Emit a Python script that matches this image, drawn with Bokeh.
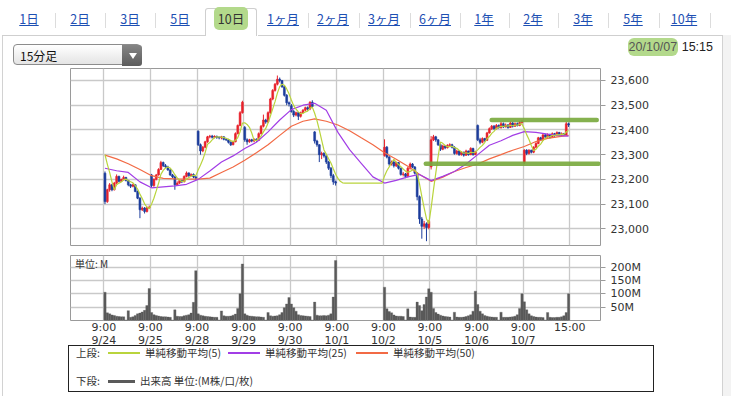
import numpy as np
import pandas as pd
from bokeh.plotting import figure
from bokeh.layouts import column
from bokeh.models import Range1d, FixedTicker, NumeralTickFormatter, Div
from bokeh.core.properties import value
from bokeh.embed import file_html
from bokeh.resources import INLINE

# ---------------- data ----------------
day_labels = ["9/24", "9/25", "9/28", "9/29", "9/30", "10/1", "10/2", "10/5", "10/6", "10/7"]
bars_per_day = 20
prev_closes = [23350, 23345, 23350, 23346]          # last bars of 9/23 (MA5 seed)
am_open = [23225, 23218, 23395, 23410, 23498, 23185, 23297, 23250, 23418, 23268]
pm_open = [23195, 23210, 23368, 23432, 23392, 23185, 23212, 23330, 23410, 23372]

closes = [
    [23110, 23158, 23178, 23158, 23185, 23212, 23192, 23199, 23208, 23195, 23178, 23172, 23178, 23151, 23124, 23077, 23084, 23070, 23086, 23088],
    [23175, 23200, 23218, 23240, 23268, 23255, 23250, 23238, 23218, 23210, 23178, 23185, 23195, 23190, 23212, 23226, 23215, 23220, 23210, 23205],
    [23340, 23315, 23330, 23352, 23372, 23375, 23370, 23374, 23370, 23368, 23372, 23362, 23360, 23350, 23340, 23352, 23385, 23418, 23470, 23512],
    [23360, 23352, 23360, 23355, 23362, 23358, 23385, 23415, 23440, 23432, 23470, 23525, 23560, 23585, 23605, 23600, 23575, 23540, 23510, 23505],
    [23475, 23460, 23470, 23455, 23470, 23480, 23490, 23485, 23512, 23495, 23355, 23340, 23300, 23305, 23295, 23270, 23245, 23215, 23190, 23185],
    [23185, 23185, 23185, 23185, 23185, 23185, 23185, 23185, 23185, 23185, 23185, 23185, 23185, 23185, 23185, 23185, 23185, 23185, 23185, 23185],
    [23330, 23290, 23262, 23270, 23255, 23268, 23245, 23220, 23222, 23212, 23245, 23262, 23250, 23225, 23130, 23040, 23010, 23020, 23005, 23030],
    [23360, 23372, 23360, 23340, 23322, 23335, 23328, 23338, 23340, 23330, 23305, 23315, 23300, 23310, 23298, 23315, 23300, 23325, 23300, 23312],
    [23360, 23350, 23365, 23358, 23388, 23405, 23415, 23405, 23418, 23410, 23425, 23412, 23420, 23410, 23428, 23415, 23425, 23418, 23430, 23434],
    [23318, 23305, 23318, 23310, 23330, 23345, 23368, 23360, 23380, 23372, 23382, 23370, 23385, 23378, 23390, 23378, 23385, 23380, 23425, 23420],
]
highs = [
    [23232, 23162, 23185, 23182, 23190, 23220, 23215, 23203, 23215, 23210, 23198, 23182, 23183, 23180, 23155, 23128, 23090, 23088, 23090, 23094],
    [23222, 23204, 23222, 23245, 23275, 23272, 23262, 23255, 23242, 23222, 23215, 23192, 23200, 23198, 23216, 23232, 23228, 23224, 23224, 23214],
    [23398, 23345, 23335, 23356, 23376, 23380, 23380, 23378, 23377, 23374, 23376, 23374, 23366, 23364, 23354, 23356, 23390, 23422, 23476, 23518],
    [23416, 23366, 23364, 23364, 23366, 23366, 23390, 23420, 23462, 23445, 23475, 23530, 23565, 23590, 23620, 23612, 23602, 23578, 23545, 23515],
    [23505, 23480, 23474, 23472, 23474, 23484, 23494, 23495, 23516, 23520, 23395, 23360, 23342, 23312, 23310, 23298, 23275, 23250, 23222, 23195],
    [23185, 23185, 23185, 23185, 23185, 23185, 23185, 23185, 23185, 23185, 23185, 23185, 23185, 23185, 23185, 23185, 23185, 23185, 23185, 23185],
    [23362, 23335, 23295, 23276, 23274, 23272, 23270, 23248, 23230, 23226, 23250, 23268, 23266, 23254, 23228, 23135, 23048, 23032, 23026, 23035],
    [23375, 23380, 23376, 23362, 23345, 23340, 23338, 23342, 23346, 23344, 23334, 23320, 23318, 23314, 23312, 23320, 23316, 23330, 23328, 23316],
    [23422, 23368, 23370, 23368, 23392, 23410, 23420, 23420, 23424, 23422, 23432, 23430, 23426, 23424, 23434, 23432, 23430, 23430, 23436, 23440],
    [23322, 23322, 23322, 23320, 23334, 23350, 23372, 23372, 23384, 23384, 23386, 23384, 23390, 23388, 23394, 23392, 23390, 23388, 23432, 23430],
]
lows = [
    [23100, 23105, 23150, 23152, 23155, 23180, 23188, 23190, 23195, 23192, 23172, 23165, 23168, 23148, 23120, 23043, 23072, 23062, 23066, 23080],
    [23168, 23170, 23196, 23215, 23238, 23250, 23245, 23235, 23214, 23205, 23158, 23175, 23182, 23185, 23188, 23208, 23210, 23212, 23205, 23198],
    [23335, 23300, 23310, 23326, 23348, 23366, 23365, 23366, 23364, 23362, 23362, 23358, 23355, 23345, 23335, 23338, 23350, 23382, 23415, 23466],
    [23352, 23340, 23348, 23350, 23350, 23352, 23355, 23382, 23410, 23425, 23428, 23465, 23520, 23555, 23580, 23592, 23570, 23535, 23500, 23495],
    [23470, 23452, 23455, 23440, 23450, 23466, 23476, 23478, 23480, 23490, 23345, 23332, 23270, 23282, 23288, 23262, 23238, 23205, 23178, 23175],
    [23185, 23185, 23185, 23185, 23185, 23185, 23185, 23185, 23185, 23185, 23185, 23185, 23185, 23185, 23185, 23185, 23185, 23185, 23185, 23185],
    [23292, 23285, 23255, 23256, 23248, 23250, 23240, 23215, 23212, 23205, 23208, 23240, 23245, 23220, 23115, 23020, 22960, 23000, 22950, 22998],
    [23240, 23355, 23352, 23335, 23315, 23318, 23322, 23325, 23332, 23325, 23300, 23300, 23295, 23296, 23292, 23295, 23296, 23298, 23296, 23298],
    [23355, 23342, 23346, 23352, 23355, 23385, 23400, 23400, 23402, 23405, 23405, 23408, 23410, 23405, 23408, 23410, 23412, 23414, 23415, 23425],
    [23262, 23298, 23300, 23305, 23306, 23326, 23342, 23355, 23356, 23366, 23368, 23365, 23368, 23372, 23374, 23374, 23376, 23375, 23378, 23412],
]
volumes_m = [
    [106, 29, 25, 21, 19, 16, 15, 14, 14, 2, 37, 12, 14, 19, 25, 28, 32, 38, 56, 120],
    [30, 22, 19, 17, 15, 14, 14, 13, 12, 2, 40, 16, 15, 15, 18, 20, 22, 28, 68, 187],
    [25, 20, 18, 16, 15, 14, 13, 12, 12, 2, 36, 18, 16, 16, 17, 20, 24, 45, 100, 212],
    [25, 20, 17, 16, 15, 14, 14, 13, 12, 2, 30, 18, 16, 17, 18, 22, 30, 48, 62, 86],
    [62, 48, 35, 22, 19, 18, 17, 16, 15, 2, 69, 20, 18, 18, 19, 18, 20, 25, 88, 225],
    [0, 0, 0, 0, 0, 0, 0, 0, 0, 0, 0, 0, 0, 0, 0, 0, 0, 0, 0, 0],
    [125, 44, 34, 29, 21, 17, 16, 16, 15, 2, 44, 13, 12, 12, 69, 56, 37, 60, 88, 119],
    [106, 45, 30, 24, 20, 17, 15, 14, 13, 2, 31, 13, 12, 12, 13, 15, 18, 22, 35, 110],
    [60, 35, 25, 19, 16, 14, 13, 12, 12, 2, 31, 12, 12, 12, 13, 14, 16, 22, 45, 100],
    [70, 40, 25, 18, 15, 13, 12, 12, 11, 2, 30, 12, 11, 11, 12, 12, 14, 18, 30, 100],
]
# moving averages (25 / 50) read at bars 0, 5, 10, 15 of each day and at the last bar
ma_sample_bars = [0, 5, 10, 15]
ma25_vals = [23245, 23235, 23228, 23190, 23166, 23170, 23174, 23180, 23200, 23234, 23270, 23295,
             23325, 23350, 23392, 23440, 23482, 23500, 23508, 23480, 23390, 23320, 23265, 23210,
             23185, 23196, 23210, 23220, 23195, 23212, 23232, 23262, 23300, 23338, 23356, 23378,
             23393, 23390, 23383, 23377, 23375]
ma50_vals = [23298, 23283, 23263, 23240, 23215, 23204, 23202, 23201, 23201, 23205, 23228, 23250,
             23277, 23308, 23340, 23378, 23415, 23435, 23445, 23435, 23420, 23397, 23368, 23340,
             23308, 23281, 23253, 23220, 23192, 23209, 23232, 23248, 23262, 23283, 23300, 23318,
             23333, 23353, 23366, 23373, 23378]
price_ticks = [23000, 23100, 23200, 23300, 23400, 23500, 23600]
volume_ticks = [50, 100, 150, 200]
# hand-drawn support / resistance marks
mark_levels = [23440, 23263]
mark_from = [8.325, 6.91]
mark_to = [10.58, 10.62]

tab_labels = ["1日", "2日", "3日", "5日", "10日", "1ヶ月", "2ヶ月", "3ヶ月", "6ヶ月", "1年", "2年", "3年", "5年", "10年"]
active_tab = "10日"
legend_upper = ["単純移動平均(5)", "単純移動平均(25)", "単純移動平均(50)"]
legend_lower = "出来高 単位:(M株/口/枚)"

# ---------------- derived series ----------------
nb = bars_per_day
X, O, H, L, C, V = [], [], [], [], [], []
for d in range(len(day_labels)):
    for k in range(nb):
        X.append(d + (k + 0.5) / nb)
        if k == 0:
            op = am_open[d]
        elif k == 10:
            op = pm_open[d]
        else:
            op = closes[d][k - 1]
        O.append(op); C.append(closes[d][k]); H.append(highs[d][k]); L.append(lows[d][k])
        V.append(volumes_m[d][k])
X = np.array(X); O = np.array(O, float); C = np.array(C, float)
H = np.array(H, float); L = np.array(L, float); V = np.array(V, float)
traded = V > 0
up = (C >= O) & traded
dn = (C < O) & traded

ser = pd.Series(list(prev_closes) + list(C))
ma5 = ser.rolling(5).mean().to_numpy()[len(prev_closes):]
ma_x = [d + (k + 0.5) / nb for d in range(len(day_labels)) for k in ma_sample_bars] + [len(day_labels) - 1 + (nb - 0.5) / nb]

UP_COL = "#e8222b"
DN_COL = "#1c3d9c"
MA5_COL = "#b9d43c"
MA25_COL = "#a23de6"
MA50_COL = "#f26a45"
GRID_COL = "#c9c9c9"
FRAME_COL = "#9a9a9a"
JP = value("Noto Sans CJK JP")
NUM = "DejaVu Sans"
W = 731
SIDE_BG = ("linear-gradient(to right, #ffffff 2px, #d2d2d2 2px, #d2d2d2 3px, #ffffff 3px, "
           "#ffffff 722px, #d2d2d2 722px, #d2d2d2 723px, #f3f3f3 723px)")
x_range = Range1d(-0.715, 10.66)

# ---------------- header (HTML) ----------------
def box(left, top, width, height, style=""):
    return (f'<div style="position:absolute;left:{left}px;top:{top}px;width:{width}px;'
            f'height:{height}px;{style}"></div>')

def txt(content, x, y, size, color, align="left", width=90, style=""):
    lh = size + 6
    left = x - width / 2 if align == "center" else (x - width if align == "right" else x)
    return (f'<div style="position:absolute;left:{left}px;top:{y - lh / 2}px;width:{width}px;'
            f'height:{lh}px;line-height:{lh}px;font-size:{size}px;color:{color};text-align:{align};'
            f'white-space:nowrap;{style}">{content}</div>')

tab_x = [29, 80, 130, 180, 231, 283, 333, 384, 435, 484, 533, 583, 633, 684]
ai = tab_labels.index(active_tab)
h = []
h.append(box(0, 35, 731, 31, f"background:{SIDE_BG};"))
h.append(box(2, 35, 203, 0, "border-top:1px solid #cfcfcf;"))
h.append(box(258, 35, 465, 0, "border-top:1px solid #cfcfcf;"))
h.append(box(205, 8, 52, 28, "border:1px solid #cfcfcf;border-bottom:none;background:#fff;"
                            "border-radius:3px 3px 0 0;"))
for i in range(len(tab_x)):
    sx = (tab_x[i] + tab_x[i + 1]) / 2 if i + 1 < len(tab_x) else 710
    if i in (ai - 1, ai):
        continue
    h.append(box(sx, 13, 1, 15, "background:#dcdcdc;"))
for i, t in enumerate(tab_labels):
    if t == active_tab:
        content = (f'<span style="background:#b3d98b;border-radius:5px;padding:2px 4px;">{t}</span>')
        h.append(txt(content, tab_x[i], 19.5, 12.5, "#333333", "center", 60))
    else:
        content = f'<span style="text-decoration:underline;">{t}</span>'
        h.append(txt(content, tab_x[i], 19.5, 12.5, "#1d4fb3", "center", 60))
h.append(box(13, 44, 128, 21, "border:1px solid #8c8c8c;border-radius:4px;"
                             "background:linear-gradient(#ffffff,#e4e4e4);"))
h.append(box(122, 45, 20, 21, "background:linear-gradient(#858585,#5c5c5c);border-radius:0 3px 3px 0;"))
h.append(box(128.5, 53, 0, 0, "border-left:4px solid transparent;border-right:4px solid transparent;"
                              "border-top:6px solid #ffffff;"))
h.append(txt("15分足", 20, 55.5, 12, "#111111", "left", 80))
date_html = ('<span style="background:#b3d98b;border-radius:6px;padding:2px 1px;color:#555;">20/10/07</span>'
             '<span style="color:#222;"> 15:15</span>')
h.append(txt(date_html, 713, 47.5, 12.5, "#333", "right", 120, "font-family:'Liberation Sans',sans-serif;"))
header = Div(text=('<div style="position:relative;width:731px;height:66px;overflow:hidden;'
                   "font-family:'Noto Sans CJK JP',sans-serif;background:#ffffff;\">" + "".join(h) + "</div>"),
             width=W, height=66, margin=0)

# ---------------- price panel ----------------
p = figure(width=W, height=188, x_range=x_range, y_range=Range1d(22932.5, 23648.5),
           toolbar_location=None, output_backend="svg", x_axis_location=None, y_axis_location="right",
           min_border_left=70, min_border_right=131, min_border_top=2, min_border_bottom=9,
           outline_line_color=FRAME_COL, border_fill_color=None, background_fill_color="#ffffff",
           styles={"background": SIDE_BG})
p.xgrid.ticker = FixedTicker(ticks=list(range(len(day_labels) + 1)))
p.ygrid.ticker = FixedTicker(ticks=price_ticks)
for g in (p.xgrid[0], p.ygrid[0]):
    g.grid_line_color = GRID_COL
    g.grid_line_width = 1.3
ya = p.yaxis[0]
ya.ticker = FixedTicker(ticks=price_ticks)
ya.formatter = NumeralTickFormatter(format="0,0")
ya.axis_line_color = None
ya.major_tick_in = 0
ya.major_tick_out = 5
ya.major_tick_line_color = FRAME_COL
ya.minor_tick_line_color = None
ya.major_label_text_font = NUM
ya.major_label_text_font_size = "11px"
ya.major_label_text_color = "#333333"
ya.major_label_standoff = 5

bw = 0.8 / nb
p.segment(x0=X[up], y0=L[up], x1=X[up], y1=H[up], line_color=UP_COL, line_width=1)
p.segment(x0=X[dn], y0=L[dn], x1=X[dn], y1=H[dn], line_color=DN_COL, line_width=1)
p.vbar(x=X[up], width=bw, bottom=O[up], top=C[up], fill_color=UP_COL, line_color=UP_COL, line_width=0.6)
p.vbar(x=X[dn], width=bw, bottom=C[dn], top=O[dn], fill_color=DN_COL, line_color=DN_COL, line_width=0.6)
p.line(x=ma_x, y=ma50_vals, line_color=MA50_COL, line_width=1.2)
p.line(x=ma_x, y=ma25_vals, line_color=MA25_COL, line_width=1.2)
p.line(x=X, y=ma5, line_color=MA5_COL, line_width=1.2)
p.segment(x0=mark_from, y0=mark_levels, x1=mark_to, y1=mark_levels, line_color="#78a83c",
          line_width=4.5, line_alpha=0.9, line_cap="round")

# ---------------- volume panel ----------------
v = figure(width=W, height=95, x_range=x_range, y_range=Range1d(0, 243.75),
           toolbar_location=None, output_backend="svg", x_axis_location="below", y_axis_location="right",
           min_border_left=70, min_border_right=131, min_border_top=1, min_border_bottom=29,
           outline_line_color=FRAME_COL, border_fill_color=None, background_fill_color="#ffffff",
           styles={"background": SIDE_BG})
v.xgrid.ticker = FixedTicker(ticks=list(range(len(day_labels) + 1)))
v.ygrid.ticker = FixedTicker(ticks=volume_ticks)
for g in (v.xgrid[0], v.ygrid[0]):
    g.grid_line_color = GRID_COL
    g.grid_line_width = 1.3
va = v.yaxis[0]
va.ticker = FixedTicker(ticks=volume_ticks)
va.major_label_overrides = {t: f"{t}M" for t in volume_ticks}
va.axis_line_color = None
va.major_tick_in = 0
va.major_tick_out = 5
va.major_tick_line_color = FRAME_COL
va.minor_tick_line_color = None
va.major_label_text_font = NUM
va.major_label_text_font_size = "11px"
va.major_label_text_color = "#333333"
va.major_label_standoff = 5
xa = v.xaxis[0]
xa.ticker = FixedTicker(ticks=list(range(len(day_labels) + 1)))
ovr = {d: f"9:00\n{day_labels[d]}" for d in range(len(day_labels))}
ovr[len(day_labels)] = "15:00"
xa.major_label_overrides = ovr
xa.axis_line_color = None
xa.major_tick_in = 0
xa.major_tick_out = 0
xa.minor_tick_line_color = None
xa.major_label_standoff = 0
xa.major_label_text_font = NUM
xa.major_label_text_font_size = "11px"
xa.major_label_text_color = "#333333"
xa.major_label_text_line_height = 1.0

v.vbar(x=X[traded], width=1.0 / nb, bottom=0, top=V[traded], fill_color="#5a5a5a", line_color="#5a5a5a",
       line_width=0.3)
v.text(x=[-0.62], y=[214], text=["単位: M"], text_align="left", text_baseline="middle",
       text_font=JP, text_font_size="10px", text_color="#333333")

# ---------------- legend (HTML) ----------------
g = []
g.append(box(2, 0, 1, 52, "background:#d2d2d2;"))
g.append(box(722, 0, 1, 52, "background:#d2d2d2;"))
g.append(box(723, 0, 8, 52, "background:#f3f3f3;"))
g.append(box(68, 1, 586, 47, "border:1px solid #222222;background:#ffffff;"))
g.append(txt("上段:", 76, 9, 10.5, "#333333", "left", 40))
g.append(txt("下段:", 76, 37, 10.5, "#333333", "left", 40))
for x0, x1, col, tx, lab in [(108, 140, MA5_COL, 145, legend_upper[0]),
                             (228, 260, MA25_COL, 265, legend_upper[1]),
                             (356, 388, MA50_COL, 393, legend_upper[2])]:
    g.append(box(x0, 8, x1 - x0, 1.5, f"background:{col};"))
    g.append(txt(lab, tx, 9, 10.5, "#333333", "left", 120))
g.append(box(108, 35.5, 27, 3, "background:#5a5a5a;"))
g.append(txt(legend_lower, 140, 37, 10.5, "#333333", "left", 200))
legend = Div(text=('<div style="position:relative;width:731px;height:52px;overflow:hidden;'
                   "font-family:'Noto Sans CJK JP',sans-serif;\">" + "".join(g) + "</div>"),
             width=W, height=52, margin=(-5, 0, 0, 0))

layout = column(header, p, v, legend, spacing=0)
open("out.html", "w").write(file_html(layout, INLINE))
